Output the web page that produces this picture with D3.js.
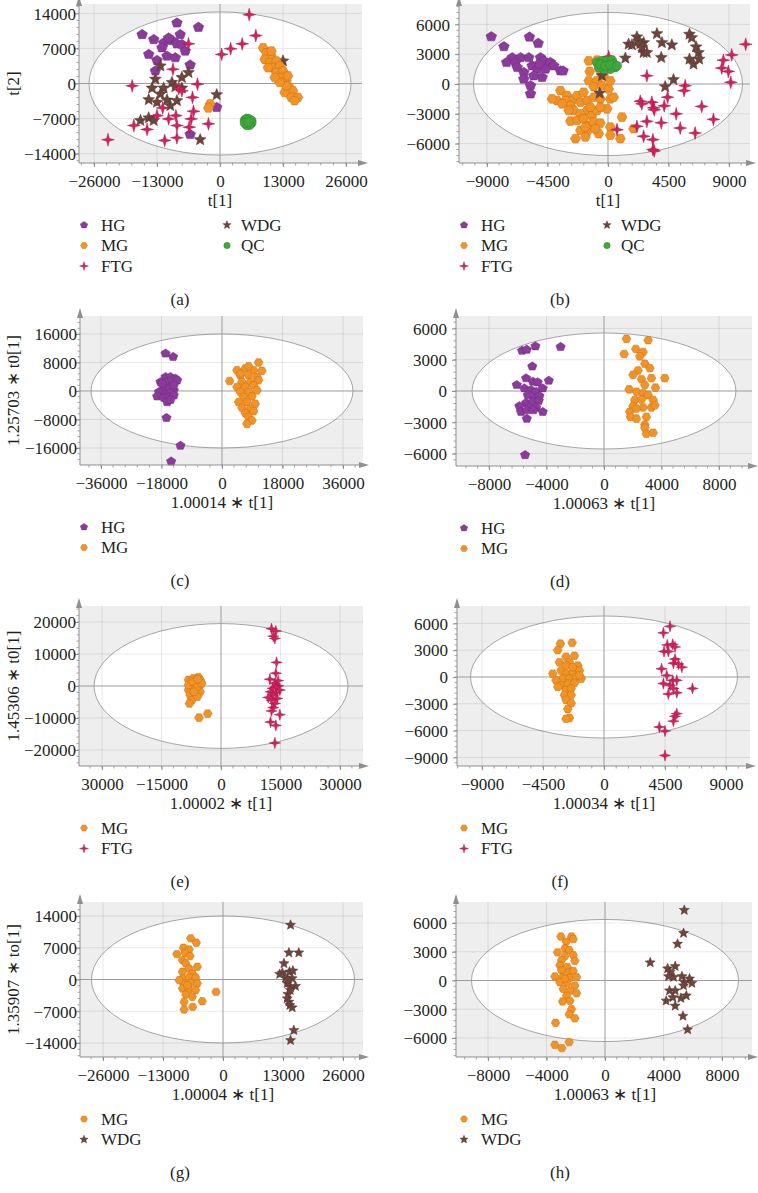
<!DOCTYPE html>
<html><head><meta charset="utf-8">
<script src="https://cdn.jsdelivr.net/npm/d3@7"></script>
<style>
body{margin:0;background:#fff;}
svg{display:block;}
text{font-family:"Liberation Serif","Times New Roman",serif;fill:#231f20;}
</style>
</head><body><svg id="chart" width="758" height="1193"></svg>
<script>
// ---------------- DATA ----------------
// Panel (a)
const aHG = [[-8890,12080],[-4450,11220],[-16070,9770],[-13680,8780],[-11630,8120],[-9920,8580],[-8210,9770],[-10600,9110],[-11970,7130],[-8890,7920],[-7870,7790],[-14710,5810],[-10940,5480],[-13000,4620],[-9230,5150],[-7180,6470],[-13340,2510],[-6160,3700],[-6160,-10160],[-680,-4750]];
const aWDG = [[-12310,3500],[-6500,2180],[-7870,1190],[-13340,860],[-9920,200],[-14020,-920],[-11630,-920],[-9230,-660],[-7870,-920],[-12310,-2110],[-14710,-3230],[-13000,-3760],[-10940,-3300],[-8890,-3430],[-10260,-4420],[-16420,-7390],[-14710,-6860],[-13680,-7390],[-680,-2240],[-4100,-11220],[13000,4490]];
const aFTG = [[6020,13730],[7390,9570],[4580,7920],[2190,6930],[340,5810],[-6500,7920],[-9710,2840],[-18130,-460],[-4650,-130],[-7870,-1450],[-8500,-1000],[-5680,-2770],[-11830,-4880],[-5470,-5540],[-13000,-6400],[-10600,-7060],[-9100,-6400],[-5950,-7060],[-2390,-8050],[-17780,-8380],[-15050,-9170],[-8890,-8380],[-6360,-8710],[-11420,-11350],[-8890,-10820],[-23120,-11220]];
const aMG = [[8890,7130],[9580,6140],[10600,5480],[9230,4820],[10260,4160],[11630,4490],[10940,3170],[12310,3500],[11630,2180],[13000,2510],[12650,1190],[13680,530],[14020,1520],[14360,-790],[15050,-1450],[13340,-1780],[14710,-2770],[16070,-2770],[15390,-3430],[13680,-460],[12310,200],[11290,1190],[9920,3170],[10600,6470],[-2050,-4090],[-2390,-4880]];
const aQC = [[5100,-7300],[5500,-7000],[6000,-7100],[6500,-7400],[6500,-7900],[6100,-8300],[5500,-8300],[5100,-7900],[5800,-7700]];
// Panel (b)
const bHG = [[-8680,4760],[-5840,4730],[-7740,3760],[-5190,4100],[-7120,2660],[-6500,2660],[-5890,2660],[-7540,2170],[-6880,2170],[-6750,1670],[-6260,1170],[-5640,1830],[-5020,2660],[-4770,2330],[-4280,2170],[-4030,1830],[-5270,1500],[-4650,1500],[-4900,670],[-5520,830],[-6260,500],[-5760,-170],[-5760,-1000],[-3540,1330],[-3340,1330],[-5140,2000]];
const bMG = [[-1430,2330],[-820,2400],[-1360,1270],[-570,1330],[-1430,330],[-820,330],[-370,830],[-1060,-270],[-450,-170],[-3540,-670],[-3040,-1170],[-2670,-1670],[-2300,-1170],[-1810,-830],[-3780,-1670],[-4160,-1500],[-3170,-1670],[-2790,-2170],[-2050,-1830],[-1560,-1670],[-1060,-1330],[-570,-1500],[170,-1500],[420,-1330],[50,-500],[170,330],[-1560,-2660],[-2550,-2660],[-2050,-3000],[-1190,-3160],[-820,-2660],[-70,-2500],[-2790,-3730],[-2300,-3660],[-1810,-3500],[-1430,-4160],[-1060,-3830],[-570,-3930],[-690,-5000],[-1560,-4830],[-2050,-4660],[-2420,-5500],[-1680,-5330],[170,-4330],[170,-5160],[920,-5500],[1040,-3330],[1900,-4500],[-2920,-2660],[-3410,-2000],[-570,-2330],[-1310,-2330],[-1680,-4330],[-940,-4500]];
const bQC = [[-820,2170],[-450,2330],[-70,2330],[300,2400],[420,2000],[540,1670],[170,1500],[-320,1500],[-690,1670],[-570,2000],[-200,1830],[170,1930],[670,1830]];
const bWDG = [[1290,2600],[1530,4000],[1780,3930],[2150,4730],[2280,4330],[2650,4160],[2400,4060],[2520,3660],[2650,3160],[2890,3160],[3640,5060],[4010,4160],[3960,2660],[4750,3930],[6060,5000],[6230,4660],[6550,3730],[6730,3160],[6060,2500],[6360,2000],[6780,2500],[4870,430],[4250,-270],[-450,830],[-620,-930]];
const bFTG = [[10240,4000],[9200,2930],[8580,2400],[8460,1600],[8950,1270],[9130,170],[2890,830],[5740,-170],[5660,-670],[4430,-1330],[2400,-1730],[2520,-2000],[3260,-1830],[3390,-2400],[3440,-2600],[4180,-2200],[5070,-3000],[6970,-2260],[7840,-3560],[2890,-3760],[3960,-3900],[2150,-4260],[5370,-4430],[6480,-4930],[2650,-5260],[3340,-5600],[3340,-6590],[3440,-6730],[670,-4600],[50,2760]];
// Panel (c)
const cHG = [[-16810,10540],[-14540,9600],[-16810,3950],[-15330,3950],[-13850,3480],[-18300,2540],[-16320,2540],[-14840,3010],[-13350,3010],[-17310,1130],[-15820,660],[-14340,190],[-18790,-280],[-16810,-750],[-15330,-570],[-19290,-1510],[-17310,-1880],[-15820,-1690],[-14340,-1220],[-16320,-3110],[-15330,-2450],[-16520,-7530],[-12360,-15340],[-15130,-19760],[-17800,2070],[-14340,1600]];
const cMG = [[10880,8000],[4450,5830],[6920,6310],[9400,5830],[11870,5650],[2280,2820],[5440,4420],[7910,4420],[10390,3950],[5930,2540],[8410,2540],[10880,3010],[4450,1130],[6920,1130],[9400,1600],[5440,-280],[7910,-280],[10390,190],[6430,-1690],[8900,-1510],[4950,-3110],[7420,-3110],[9890,-3580],[5930,-4710],[8410,-4990],[6920,-6210],[9400,-5650],[7910,-7340],[8900,-8280],[7420,-9220],[5440,4890],[7910,6960]];
// Panel (d)
const dHG = [[-5700,3870],[-5370,3970],[-4770,4290],[-3020,4230],[-4990,2360],[-6070,580],[-5420,1230],[-4950,900],[-4610,840],[-3840,1000],[-5540,260],[-5070,100],[-4720,-70],[-4260,260],[-5300,-390],[-4840,-710],[-4490,-480],[-5420,-1130],[-4950,-1030],[-4540,-940],[-5890,-1450],[-5190,-1580],[-4720,-1580],[-5770,-2000],[-5370,-1840],[-4910,-1840],[-4260,-2000],[-5370,-2650],[-5490,-6130]];
const dMG = [[1560,5000],[3070,4870],[1400,3550],[2210,4030],[2720,3740],[2490,3320],[2840,2610],[3190,2190],[2370,1970],[2020,1550],[3300,1230],[4230,1230],[2610,1130],[1750,160],[2840,580],[3580,320],[2260,-70],[2720,-230],[3070,-390],[2140,-870],[2610,-810],[3420,-870],[2020,-1450],[2720,-1580],[3300,-1580],[3540,-1360],[1790,-2000],[2260,-1680],[1840,-2480],[2260,-2650],[2950,-2480],[2840,-3230],[2840,-3520],[2950,-4100],[3420,-4000]];
// Panel (e)
const eMG = [[-8210,1900],[-6960,2420],[-5700,2740],[-5280,1900],[-7790,320],[-6540,840],[-5280,320],[-8210,-1260],[-6960,-740],[-5700,-1260],[-7790,-2840],[-6540,-2320],[-5280,-1790],[-7370,-4420],[-5950,-3370],[-7960,-5480],[-8210,320],[-7120,1370],[-5950,-210],[-4860,840],[-6790,-1790],[-5870,2110],[-5530,-9900],[-3350,-8640]];
const eFTG = [[12740,17900],[13830,17160],[13160,15580],[13580,14850],[14000,7370],[13830,4000],[12320,2110],[13580,840],[14410,100],[12990,-740],[14830,-1260],[12490,-1790],[13830,-2110],[11900,-3580],[14160,-3900],[13580,-5480],[13160,-6740],[12740,-7790],[14830,-8950],[12490,-11270],[13830,-12320],[13580,-17800],[14000,-210],[13160,-2840],[12740,-4420],[14410,1690]];
// Panel (f)
const fMG = [[-3220,3730],[-2350,3840],[-3410,3000],[-2800,2270],[-2180,2380],[-3290,1650],[-2550,1650],[-1930,1280],[-3780,370],[-3170,730],[-2800,370],[-2300,550],[-1810,730],[-3040,-180],[-2550,-180],[-2050,0],[-1680,-180],[-3540,-370],[-3170,-920],[-2670,-730],[-2180,-660],[-3410,-1100],[-2800,-1460],[-2420,-1280],[-2920,-2010],[-2420,-2010],[-2800,-2560],[-2420,-2930],[-2670,-3590],[-2550,-4580],[-2800,-4680],[-2800,1280],[-2300,1100],[-1810,180]];
const fFTG = [[4870,5670],[4380,4940],[4670,3590],[5070,3660],[5240,3370],[4430,2860],[4750,2860],[5240,2010],[5120,1540],[5490,1460],[5740,1100],[4250,920],[4630,180],[5070,-370],[5370,-370],[4870,-920],[5120,-1280],[4380,-730],[4750,-1900],[5370,-1760],[6530,-1280],[5370,-4100],[5240,-4390],[5120,-4940],[4080,-5600],[4500,-6040],[4500,-8780]];
// Panel (g)
const gMG = [[-7000,9070],[-5780,8110],[-8570,7000],[-7350,6630],[-10000,5600],[-8210,5900],[-7140,5160],[-8780,4280],[-8070,3540],[-5570,2800],[-7350,2430],[-8780,1700],[-6640,1330],[-8780,220],[-7350,440],[-5930,440],[-8570,-880],[-7000,-740],[-5570,-880],[-8780,-1990],[-7350,-2210],[-5930,-2360],[-8070,-3320],[-6640,-3830],[-8430,-4940],[-4500,-4790],[-6570,-6040],[-8430,-6630],[-1500,-2730],[-7710,-1250],[-9500,-150]];
const gWDG = [[14640,12010],[14280,5900],[16420,5900],[13210,3540],[12850,1470],[14420,1700],[15140,1920],[13570,370],[14990,220],[13920,-880],[15710,-1470],[14640,-1770],[14070,-3240],[13920,-4200],[14280,-4940],[14490,-5680],[14990,-6190],[15350,-11200],[14640,-13410],[12280,1180],[14070,-150],[14570,-2360]];
// Panel (h)
const hMG = [[-3020,4590],[-2290,4590],[-2170,4310],[-2650,4060],[-3250,2930],[-2740,3350],[-2450,3180],[-2740,2540],[-2170,2650],[-2970,2120],[-2060,2050],[-3090,1590],[-2580,1410],[-2970,1060],[-2470,880],[-2170,990],[-3430,420],[-2900,350],[-2400,280],[-3090,-180],[-2580,-280],[-2060,-530],[-2860,-880],[-2360,-1060],[-1940,-1340],[-2630,-1590],[-2400,-2120],[-2900,-2190],[-2290,-3000],[-2450,-3530],[-2060,-3950],[-3380,-4410],[-2450,-6430],[-3430,-6710],[-2950,-7060],[-2740,180],[-1940,350]];
const hWDG = [[5420,7340],[5370,4940],[4960,3810],[3090,1870],[4280,1240],[4800,1480],[4460,880],[4690,350],[5260,420],[5780,180],[5420,-180],[5940,-280],[5370,-530],[4410,-1060],[4800,-1060],[4640,-1770],[5190,-1840],[5560,-1590],[4180,-2120],[4800,-2650],[5330,-3710],[5650,-5120],[4340,420]];

// Tick values / labels
const aXTicks = [-26000,-13000,0,13000,26000], aYTicks = [14000,7000,0,-7000,-14000];
const bXTicks = [-9000,-4500,0,4500,9000],     bYTicks = [6000,3000,0,-3000,-6000];
const cXTicks = [-36000,-18000,0,18000,36000], cYTicks = [16000,8000,0,-8000,-16000];
const dXTicks = [-8000,-4000,0,4000,8000],     dYTicks = [6000,3000,0,-3000,-6000];
const eXTicks = [-30000,-15000,0,15000,30000], eYTicks = [20000,10000,0,-10000,-20000];
const eXTickLabels = ["30000","\u221215000","0","15000","30000"];
const fXTicks = [-9000,-4500,0,4500,9000],     fYTicks = [6000,3000,0,-3000,-6000,-9000];
const gXTicks = [-26000,-13000,0,13000,26000], gYTicks = [14000,7000,0,-7000,-14000];
const hXTicks = [-8000,-4000,0,4000,8000],     hYTicks = [6000,3000,0,-3000,-6000];

// ---------------- STYLE / LAYOUT ----------------
const groupStyle = {
  HG:  {color:"#8c3a9c", shape:"pentagon", r:5.6},
  MG:  {color:"#f39325", shape:"hexagon",  r:5.0},
  FTG: {color:"#d4215b", shape:"star4",    r:6.4},
  WDG: {color:"#6d453c", shape:"star5",    r:6.2},
  QC:  {color:"#3fa83c", shape:"circle",   r:4.6}
};

const panels = [
 {tag:"(a)", col:0, x0:79, x1:362, y0:4, y1:163, xDomain:[-29100,29300], yDomain:[-15860,15860], ell:[27030,14280], xTicks:aXTicks, yTicks:aYTicks, xTitle:"t[1]", yTitle:"t[2]", series:[["HG",aHG],["WDG",aWDG],["FTG",aFTG],["MG",aMG],["QC",aQC]], legend:[["HG","MG","FTG"],["WDG","QC"]], k:1},
 {tag:"(b)", col:1, x0:459, x1:750, y0:4, y1:163, xDomain:[-11080,10560], yDomain:[-7950,8050], ell:[10000,7200], xTicks:bXTicks, yTicks:bYTicks, xTitle:"t[1]", yTitle:"t[2]", series:[["HG",bHG],["MG",bMG],["WDG",bWDG],["FTG",bFTG],["QC",bQC]], legend:[["HG","MG","FTG"],["WDG","QC"]], k:1},
 {tag:"(c)", col:0, x0:80, x1:363, y0:316, y1:465, xDomain:[-42250,41950], yDomain:[-20770,21050], ell:[38970,16000], xTicks:cXTicks, yTicks:cYTicks, xTitle:"1.00014 \u2217 t[1]", yTitle:"1.25703 \u2217 t0[1]", series:[["HG",cHG],["MG",cMG]], legend:[["HG","MG"]], k:0.88},
 {tag:"(d)", col:1, x0:456, x1:752, y0:316, y1:466, xDomain:[-10296,10296], yDomain:[-7188,7188], ell:[9180,5560], xTicks:dXTicks, yTicks:dYTicks, xTitle:"1.00063 \u2217 t[1]", yTitle:"t[2]", series:[["HG",dHG],["MG",dMG]], legend:[["HG","MG"]], k:0.88},
 {tag:"(e)", col:0, x0:79, x1:363, y0:606, y1:766, xDomain:[-35800,35800], yDomain:[-25000,25000], ell:[32000,19500], xTicks:eXTicks, xLabels:eXTickLabels, yTicks:eYTicks, xTitle:"1.00002 \u2217 t[1]", yTitle:"1.45306 \u2217 t0[1]", series:[["MG",eMG],["FTG",eFTG]], legend:[["MG","FTG"]], k:0.88},
 {tag:"(f)", col:1, x0:457, x1:750, y0:606, y1:766, xDomain:[-10845,10771], yDomain:[-9963,7948], ell:[9850,6830], xTicks:fXTicks, yTicks:fYTicks, xTitle:"1.00034 \u2217 t[1]", yTitle:"130231 \u2217 to[1]", series:[["MG",fMG],["FTG",fFTG]], legend:[["MG","FTG"]], k:0.88},
 {tag:"(g)", col:0, x0:80, x1:363, y0:902, y1:1057, xDomain:[-30983,30333], yDomain:[-17087,17087], ell:[28500,14000], xTicks:gXTicks, yTicks:gYTicks, xTitle:"1.00004 \u2217 t[1]", yTitle:"1.35907 \u2217 to[1]", series:[["MG",gMG],["WDG",gWDG]], legend:[["MG","WDG"]], k:0.85},
 {tag:"(h)", col:1, x0:456, x1:752, y0:902, y1:1057, xDomain:[-10188,10051], yDomain:[-7983,8191], ell:[9130,6370], xTicks:hXTicks, yTicks:hYTicks, xTitle:"1.00063 \u2217 t[1]", yTitle:"1.1876 \u2217 to[1]", series:[["MG",hMG],["WDG",hWDG]], legend:[["MG","WDG"]], k:0.85}
];

function shapePath(type, r){
  const p = d3.path();
  if(type === "circle"){ p.arc(0,0,r,0,2*Math.PI); p.closePath(); return p.toString(); }
  const pts = [];
  if(type === "pentagon"){
    for(let i=0;i<5;i++){ const a=-Math.PI/2+i*2*Math.PI/5; pts.push([r*Math.cos(a), r*Math.sin(a)*0.92]); }
  } else if(type === "hexagon"){
    for(let i=0;i<6;i++){ const a=i*Math.PI/3; pts.push([r*Math.cos(a), r*Math.sin(a)]); }
  } else if(type === "star4"){
    for(let i=0;i<8;i++){ const a=-Math.PI/2+i*Math.PI/4; const rr=i%2?r*0.3:r; pts.push([rr*Math.cos(a), rr*Math.sin(a)]); }
  } else if(type === "star5"){
    for(let i=0;i<10;i++){ const a=-Math.PI/2+i*Math.PI/5; const rr=i%2?r*0.45:r; pts.push([rr*Math.cos(a), rr*Math.sin(a)]); }
  }
  p.moveTo(pts[0][0], pts[0][1]);
  for(let i=1;i<pts.length;i++) p.lineTo(pts[i][0], pts[i][1]);
  p.closePath();
  return p.toString();
}

const svg = d3.select("#chart");
const FS = 17;
const fmt = v => d3.format("d")(v).replace("-", "\u2212");

function drawPanel(P){
  const cx = P.col * 380;
  const g = svg.append("g");
  const x = d3.scaleLinear().domain(P.xDomain).range([P.x0, P.x1]);
  const y = d3.scaleLinear().domain(P.yDomain).range([P.y1, P.y0]);

  // background
  g.append("rect").attr("x",P.x0).attr("y",P.y0).attr("width",P.x1-P.x0).attr("height",P.y1-P.y0).attr("fill","#eeeeee");
  // Hotelling ellipse
  g.append("ellipse").attr("cx",x(0)).attr("cy",y(0))
    .attr("rx",x(P.ell[0])-x(0)).attr("ry",y(0)-y(P.ell[1]))
    .attr("fill","#ffffff").attr("stroke","#a5a5a5").attr("stroke-width",1);
  // grid lines
  g.append("g").selectAll("line").data(P.xTicks.filter(t=>t!==0)).join("line")
    .attr("x1",d=>x(d)).attr("x2",d=>x(d)).attr("y1",P.y0).attr("y2",P.y1)
    .attr("stroke","rgba(0,0,0,0.09)").attr("stroke-width",1);
  g.append("g").selectAll("line").data(P.yTicks.filter(t=>t!==0)).join("line")
    .attr("y1",d=>y(d)).attr("y2",d=>y(d)).attr("x1",P.x0).attr("x2",P.x1)
    .attr("stroke","rgba(0,0,0,0.09)").attr("stroke-width",1);
  // zero lines
  g.append("line").attr("x1",x(0)).attr("x2",x(0)).attr("y1",P.y0).attr("y2",P.y1).attr("stroke","#9c9c9c").attr("stroke-width",1);
  g.append("line").attr("x1",P.x0).attr("x2",P.x1).attr("y1",y(0)).attr("y2",y(0)).attr("stroke","#9c9c9c").attr("stroke-width",1);

  // points
  P.series.forEach(([name, data]) => {
    const st = groupStyle[name];
    const path = shapePath(st.shape, st.r * P.k);
    g.append("g").selectAll("path").data(data).join("path")
      .attr("d", path)
      .attr("transform", d => `translate(${x(d[0])},${y(d[1])})`)
      .attr("fill", st.color)
      .attr("stroke", d3.color(st.color).darker(0.7))
      .attr("stroke-width", 0.5);
  });

  // axes: minor ticks
  const axisCol = "#8f8f8f";
  const xStep = P.xTicks[1]-P.xTicks[0];
  const yStep = Math.abs(P.yTicks[1]-P.yTicks[0]);
  const xMinor = d3.range(Math.ceil(P.xDomain[0]/(xStep/5)), Math.floor(P.xDomain[1]/(xStep/5))+1).map(i=>i*xStep/5);
  const yMinor = d3.range(Math.ceil(P.yDomain[0]/(yStep/5)), Math.floor(P.yDomain[1]/(yStep/5))+1).map(i=>i*yStep/5);
  g.append("g").selectAll("line").data(xMinor).join("line")
    .attr("x1",d=>x(d)).attr("x2",d=>x(d)).attr("y1",P.y1).attr("y2",P.y1+2.5).attr("stroke",axisCol).attr("stroke-width",0.8);
  g.append("g").selectAll("line").data(yMinor).join("line")
    .attr("y1",d=>y(d)).attr("y2",d=>y(d)).attr("x1",P.x0).attr("x2",P.x0-2.5).attr("stroke",axisCol).attr("stroke-width",0.8);

  // x axis (major)
  const xLab = P.xLabels ? (d,i)=>P.xLabels[i] : fmt;
  const xa = g.append("g").attr("transform",`translate(0,${P.y1})`)
    .call(d3.axisBottom(x).tickValues(P.xTicks).tickFormat(xLab).tickSize(4).tickSizeOuter(0).tickPadding(4));
  xa.select(".domain").remove();
  xa.selectAll(".tick line").attr("stroke",axisCol);
  xa.selectAll(".tick text").attr("font-family",null).attr("font-size",FS).attr("fill","#231f20").attr("dy",null).attr("y",24);
  xa.attr("font-family",null).attr("font-size",null);

  // y axis (major)
  const gap = P.col===0 ? 3 : 9;
  const ya = g.append("g").attr("transform",`translate(${P.x0},0)`)
    .call(d3.axisLeft(y).tickValues(P.yTicks).tickFormat(fmt).tickSize(4).tickSizeOuter(0).tickPadding(gap-4));
  ya.select(".domain").remove();
  ya.selectAll(".tick line").attr("stroke",axisCol);
  ya.selectAll(".tick text").attr("font-family",null).attr("font-size",FS).attr("fill","#231f20").attr("x",-gap).attr("dy","0.34em");
  ya.attr("font-family",null).attr("font-size",null);

  // axis lines with arrows
  g.append("line").attr("x1",P.x0).attr("x2",P.x1+2).attr("y1",P.y1).attr("y2",P.y1).attr("stroke",axisCol).attr("stroke-width",1);
  g.append("line").attr("x1",P.x0).attr("x2",P.x0).attr("y1",P.y1).attr("y2",P.y0-4).attr("stroke",axisCol).attr("stroke-width",1);
  g.append("path").attr("d",`M${P.x1+6},${P.y1} L${P.x1-4},${P.y1-3} L${P.x1-4},${P.y1+3} Z`).attr("fill",axisCol);
  g.append("path").attr("d",`M${P.x0},${P.y0-8} L${P.x0-3},${P.y0+2} L${P.x0+3},${P.y0+2} Z`).attr("fill",axisCol);

  // titles
  g.append("text").attr("x",x(0)).attr("y",P.y1+43).attr("text-anchor","middle").attr("font-size",FS).text(P.xTitle);
  const ty = (P.y0+P.y1)/2, tx = cx + (P.col===0 ? 14 : 395);
  g.append("text").attr("x",tx).attr("y",ty).attr("transform",`rotate(-90,${tx},${ty})`).attr("text-anchor","middle")
    .attr("dy","0.3em").attr("font-size",FS).text(P.yTitle);

  // legend
  let lastRow = 0;
  P.legend.forEach((colItems, ci) => {
    const mx = cx + (ci===0 ? 84 : 227), tx2 = cx + (ci===0 ? 101 : 241);
    colItems.forEach((name, ri) => {
      const ly = P.y1 + 62 + ri*20.5;
      lastRow = Math.max(lastRow, ly);
      const st = groupStyle[name];
      g.append("path").attr("d", shapePath(st.shape, st.r*0.7))
        .attr("transform",`translate(${mx},${ly})`).attr("fill",st.color)
        .attr("stroke", d3.color(st.color).darker(0.7)).attr("stroke-width",0.4);
      g.append("text").attr("x",tx2).attr("y",ly).attr("dy","0.35em").attr("font-size",FS).text(name);
    });
  });
  // caption
  g.append("text").attr("x",cx+180).attr("y",lastRow+33).attr("dy","0.35em").attr("text-anchor","middle").attr("font-size",FS).text(P.tag);
}

panels.forEach(drawPanel);
</script></body></html>
